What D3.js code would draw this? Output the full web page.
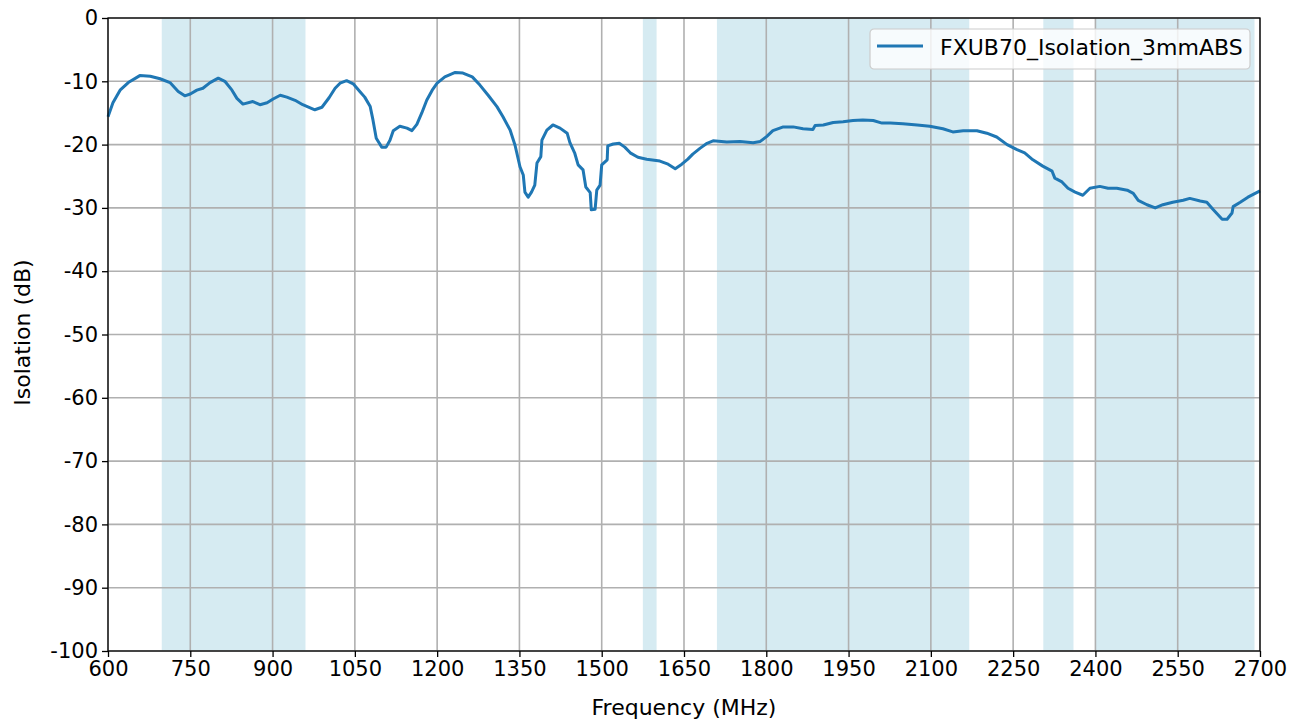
<!DOCTYPE html>
<html>
<head>
<meta charset="utf-8">
<script src="https://cdn.jsdelivr.net/npm/d3@7"></script>
<style>
  body { margin: 0; background: #fff; }
  svg { display: block; font-family: "DejaVu Sans", sans-serif; }
</style>
</head>
<body>
<svg id="chart" width="1302" height="724"></svg>
<script>
// frequency (MHz) and isolation (dB)
var freq = [600, 609, 622, 637, 658, 677, 695, 713, 728, 740, 750, 762, 773, 786, 801, 813, 826, 835, 846, 864,
  877, 890, 901, 914, 926, 941, 955, 977, 990, 1003, 1014, 1023, 1035, 1047, 1059, 1068, 1078, 1083, 1089, 1099,
  1107, 1114, 1120, 1132, 1145, 1154, 1163, 1172, 1181, 1191, 1200, 1214, 1233, 1247, 1264, 1278, 1293, 1309, 1320, 1333,
  1342, 1351, 1357, 1360, 1366, 1372, 1378, 1382, 1389, 1391, 1400, 1411, 1424, 1437, 1442, 1451, 1457, 1466, 1471, 1479,
  1481, 1488, 1491, 1497, 1500, 1510, 1511, 1521, 1532, 1542, 1552, 1566, 1582, 1606, 1621, 1634, 1646, 1657, 1666, 1679,
  1692, 1703, 1728, 1752, 1776, 1789, 1801, 1812, 1831, 1849, 1867, 1885, 1889, 1904, 1922, 1940, 1958, 1976, 1995, 2011,
  2026, 2049, 2075, 2098, 2122, 2140, 2159, 2184, 2202, 2220, 2239, 2257, 2271, 2286, 2304, 2321, 2326, 2339, 2350, 2363,
  2377, 2390, 2408, 2423, 2439, 2458, 2469, 2478, 2494, 2509, 2523, 2541, 2560, 2572, 2591, 2603, 2615, 2631, 2640, 2649,
  2651, 2664, 2678, 2700];
var isolation = [-15.6, -13.4, -11.4, -10.2, -9.1, -9.2, -9.6, -10.2, -11.6, -12.3, -12.0, -11.4, -11.1, -10.2, -9.5, -10.0, -11.4, -12.7, -13.6, -13.2,
  -13.7, -13.4, -12.8, -12.2, -12.5, -13.0, -13.7, -14.5, -14.1, -12.6, -11.1, -10.3, -9.9, -10.4, -11.6, -12.5, -14.0, -16.1, -19.0, -20.4,
  -20.4, -19.3, -17.8, -17.1, -17.4, -17.8, -16.8, -15.0, -13.0, -11.4, -10.3, -9.3, -8.6, -8.7, -9.3, -10.6, -12.2, -14.0, -15.6, -17.7,
  -20.1, -23.5, -24.8, -27.5, -28.3, -27.5, -26.4, -22.9, -21.9, -19.3, -17.7, -16.9, -17.4, -18.2, -19.7, -21.4, -23.2, -24.0, -26.7, -27.6,
  -30.3, -30.2, -27.2, -26.4, -23.2, -22.4, -20.2, -19.9, -19.8, -20.4, -21.3, -22.0, -22.3, -22.6, -23.1, -23.8, -23.1, -22.3, -21.5, -20.6,
  -19.8, -19.4, -19.6, -19.5, -19.7, -19.5, -18.7, -17.8, -17.2, -17.2, -17.5, -17.6, -17.0, -16.9, -16.5, -16.4, -16.2, -16.1, -16.2, -16.6,
  -16.6, -16.7, -16.9, -17.1, -17.5, -18.0, -17.8, -17.8, -18.2, -18.8, -20.0, -20.8, -21.3, -22.4, -23.4, -24.2, -25.3, -25.9, -26.9, -27.5,
  -28.0, -26.9, -26.6, -26.9, -26.9, -27.2, -27.7, -28.8, -29.5, -30.0, -29.5, -29.1, -28.8, -28.5, -28.9, -29.1, -30.3, -31.8, -31.8, -30.8,
  -29.8, -29.1, -28.3, -27.3];

// shaded frequency bands (MHz)
var bandStart = [698, 1575, 1710, 2305, 2400];
var bandEnd = [960, 1600, 2170, 2360, 2690];

var xTicks = [600, 750, 900, 1050, 1200, 1350, 1500, 1650, 1800, 1950, 2100, 2250, 2400, 2550, 2700];
var yTicks = [0, -10, -20, -30, -40, -50, -60, -70, -80, -90, -100];
var seriesName = "FXUB70_Isolation_3mmABS";

var margin = {left: 108, right: 42, top: 18, bottom: 73};
var width = 1302 - margin.left - margin.right;
var height = 724 - margin.top - margin.bottom;

var svg = d3.select("#chart");
var g = svg.append("g")
  .attr("transform", "translate(" + margin.left + "," + margin.top + ")");

var x = d3.scaleLinear().domain([600, 2700]).range([0, width]);
var y = d3.scaleLinear().domain([-100, 0]).range([height, 0]);

// bands
g.selectAll(".band")
  .data(bandStart)
  .enter().append("rect")
  .attr("class", "band")
  .attr("x", function(d) { return x(d); })
  .attr("y", 0)
  .attr("width", function(d, i) { return x(bandEnd[i]) - x(d); })
  .attr("height", height)
  .attr("fill", "#d6ebf2");

// grid
g.selectAll(".vgrid")
  .data(xTicks)
  .enter().append("line")
  .attr("x1", function(d) { return x(d); })
  .attr("x2", function(d) { return x(d); })
  .attr("y1", 0).attr("y2", height)
  .attr("stroke", "#b0b0b0").attr("stroke-width", 1.6);
g.selectAll(".hgrid")
  .data(yTicks)
  .enter().append("line")
  .attr("y1", function(d) { return y(d); })
  .attr("y2", function(d) { return y(d); })
  .attr("x1", 0).attr("x2", width)
  .attr("stroke", "#b0b0b0").attr("stroke-width", 1.6);

// line
var pts = freq.map(function(f, i) { return [f, isolation[i]]; });
var line = d3.line()
  .x(function(d) { return x(d[0]); })
  .y(function(d) { return y(d[1]); });
g.append("path")
  .datum(pts)
  .attr("d", line)
  .attr("fill", "none")
  .attr("stroke", "#1f77b4")
  .attr("stroke-width", 3)
  .attr("stroke-linejoin", "round");

// axes
var xAxis = g.append("g")
  .attr("transform", "translate(0," + height + ")")
  .call(d3.axisBottom(x).tickValues(xTicks).tickSize(6).tickPadding(4).tickFormat(d3.format("d")));
var yAxis = g.append("g")
  .call(d3.axisLeft(y).tickValues(yTicks).tickSize(6).tickPadding(4).tickFormat(d3.format("d")));
[xAxis, yAxis].forEach(function(a) {
  a.select(".domain").remove();
  a.selectAll("line").attr("stroke", "#000").attr("stroke-width", 1.3);
  a.selectAll("text").attr("font-size", 21).attr("fill", "#000")
    .attr("font-family", "DejaVu Sans");
});
yAxis.selectAll("text").text(function(d) { return d; });

// frame
g.append("rect")
  .attr("width", width).attr("height", height)
  .attr("fill", "none").attr("stroke", "#000").attr("stroke-width", 1.3);

// axis labels
svg.append("text")
  .attr("x", margin.left + width / 2).attr("y", 715)
  .attr("text-anchor", "middle").attr("font-size", 22)
  .text("Frequency (MHz)");
svg.append("text")
  .attr("transform", "translate(30," + (margin.top + height / 2 - 2) + ") rotate(-90)")
  .attr("text-anchor", "middle").attr("font-size", 22)
  .text("Isolation (dB)");

// legend
var lg = svg.append("g").attr("transform", "translate(870,29)");
lg.append("rect")
  .attr("width", 380).attr("height", 40).attr("rx", 4)
  .attr("fill", "#fff").attr("fill-opacity", 0.8)
  .attr("stroke", "#cccccc").attr("stroke-width", 1.2);
lg.append("line")
  .attr("x1", 7).attr("x2", 53).attr("y1", 17).attr("y2", 17)
  .attr("stroke", "#1f77b4").attr("stroke-width", 3);
lg.append("text")
  .attr("x", 70).attr("y", 26).attr("font-size", 22)
  .text(seriesName);
</script>
</body>
</html>
